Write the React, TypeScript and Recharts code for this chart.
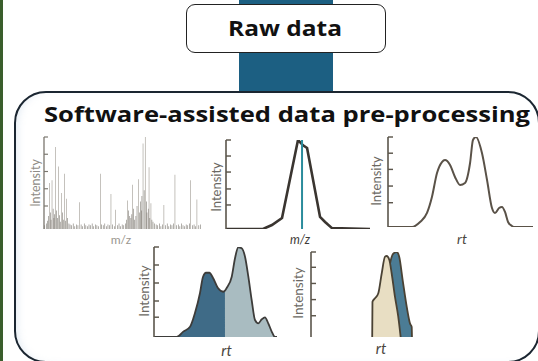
import React from 'react';
import {
  BarChart,
  Bar,
  Cell,
  XAxis,
  YAxis,
  LineChart,
  Line,
  ReferenceLine,
  ComposedChart,
  Area,
} from 'recharts';

// ---------- Panel 1: mass spectrum (m/z vs intensity) ----------
const SPEC_MZ = [3.4, 5.1, 7.4, 9.1, 11.0, 12.9, 14.3, 22.6, 35.7, 42.4, 45.4, 53, 56.1, 59.7, 62.7, 64.1, 66.5, 67.7, 75.9, 82.9, 92.8, 96.8];
const SPEC_INT = [50, 53, 89, 68, 39, 60, 33, 29, 60, 38, 21, 31, 48, 54, 93, 100, 67, 28, 26, 59, 53, 32];
const NOISE_MZ = [0.5, 1.5, 2.2, 2.8, 4, 4.5, 5.8, 6.3, 6.8, 8, 8.5, 9.7, 10.3, 11.6, 12.2, 13.5, 14.9, 15.8, 16.5, 17.5, 18.5, 19.5, 20.5, 21.5, 23.5, 24.5, 25.5, 26.5, 27.5, 28.5, 29.5, 30.5, 31.5, 32.5, 33.5, 34.5, 36.5, 37.5, 38.5, 39.5, 40.5, 41.5, 43.5, 44.5, 46.5, 47.5, 48.5, 49.5, 50.5, 51.5, 52.2, 53.6, 54.3, 55, 55.6, 56.8, 57.4, 58.2, 58.9, 60.3, 61, 61.6, 62, 63.4, 64.8, 65.2, 66, 67, 68.3, 69, 70, 71, 72, 73, 74, 75, 77, 78, 79, 80, 81, 82, 84, 85, 86, 87, 88, 89, 90, 91, 92, 94, 95, 96, 98, 99];
const NOISE_INT = [4, 6, 9, 14, 18, 10, 22, 12, 16, 20, 12, 15, 8, 18, 10, 9, 12, 6, 5, 4, 6, 3, 5, 4, 5, 3, 6, 4, 3, 5, 4, 6, 3, 5, 4, 3, 5, 4, 6, 3, 5, 4, 5, 3, 4, 6, 3, 5, 4, 6, 10, 20, 14, 12, 16, 22, 10, 14, 25, 18, 30, 20, 36, 42, 30, 18, 22, 12, 10, 8, 6, 5, 4, 6, 3, 5, 4, 6, 3, 5, 4, 6, 4, 5, 3, 6, 4, 3, 5, 4, 6, 4, 5, 3, 4, 5];
const SPEC_TICKS = [25, 43.75, 62.5, 81.25, 100];

// ---------- Panel 2: single m/z profile peak + centroid ----------
const PROFILE_X = [0, 25.7, 31.9, 38.9, 50, 53.5, 56.3, 65.3, 68.8, 73.6, 100];
const PROFILE_Y = [0, 0, 4.5, 12.4, 100, 94, 91, 13.5, 7.9, 1, 0];
const CENTROID_X = 52.8;
const PROFILE_TICKS = [27, 45, 64, 82, 100];

// ---------- Panel 3: chromatogram (rt vs intensity) ----------
const XIC_X = [0, 16.6, 22.1, 26.9, 30.3, 33.8, 37.2, 39.3, 42.8, 46.2, 49.7, 53.1, 56.6, 58.6, 60.7, 64.8, 68.3, 71.7, 73.8, 76.6, 78.6, 80.7, 82.8, 85.5, 87.6, 100];
const XIC_Y = [0, 0, 5.6, 15.6, 33.3, 60, 72.2, 74.4, 68.9, 55.6, 46.7, 48.9, 71.1, 96.7, 100, 82.2, 52.2, 21.1, 15.6, 21.1, 22.2, 16.7, 5.6, 1.1, 0, 0];
const XIC_TICKS = [27, 45.5, 64, 82, 100];

// ---------- Panel 4: deconvoluted chromatogram, split at boundary ----------
const EIC_X = [0, 18.5, 23.8, 29.3, 33.3, 37.4, 39.8, 42.3, 45, 48, 52, 56.3, 57.7, 59.1, 63.2, 65.9, 68.5, 71.3, 74, 76.7, 79.4, 82.1, 84.8, 87.6, 90.2, 92.9, 95.7, 98.4, 100];
const EIC_Y = [0, 0, 6, 11.4, 26.7, 48.9, 66.7, 71.4, 71.4, 65.6, 54.4, 50.3, 51.5, 54.4, 67, 87.8, 99.7, 98.6, 89.2, 67, 41.1, 18.9, 15.2, 19.7, 21.9, 15.2, 6, 0, 0];
const EIC_SPLIT = 57.7;
const EIC_TICKS = [22, 40, 60, 80, 100];

// ---------- Panel 5: two overlapping peaks ----------
const BEIGE_X = [48.2, 48.4, 50.4, 53, 55.7, 58.3, 59.6, 61.7, 63.5, 66.1, 68.7, 70.6];
const BEIGE_Y = [0, 41.5, 45.5, 51.4, 75, 94.5, 95.3, 90.6, 75, 47.5, 24, 0];
const BLUE_X = [54.3, 58.3, 62.2, 64.8, 67.5, 69.5, 72.2, 75.4, 78, 79.3, 79.5];
const BLUE_Y = [0, 43, 86.3, 98, 100, 94.1, 66.7, 35.3, 15.7, 11.8, 0];
const PAIR_TICKS = [25, 44, 63, 82, 100];

// ---------- derived tables ----------
const spectrumData = [
  ...SPEC_MZ.map((mz, k) => ({ mz, i: SPEC_INT[k], kind: 'peak' })),
  ...NOISE_MZ.map((mz, k) => ({ mz, i: NOISE_INT[k], kind: 'noise' })),
].sort((a, b) => a.mz - b.mz);

const profileData = PROFILE_X.map((x, k) => ({ x, y: PROFILE_Y[k] }));
const xicData = XIC_X.map((x, k) => ({ x, y: XIC_Y[k] }));
const eicData = EIC_X.map((x, k) => ({
  x,
  full: EIC_Y[k],
  a: x <= EIC_SPLIT ? EIC_Y[k] : null,
  b: x >= EIC_SPLIT ? EIC_Y[k] : null,
}));
const pairXs = Array.from(new Set([...BEIGE_X, ...BLUE_X])).sort((p, q) => p - q);
const pairData = pairXs.map((x) => {
  const bi = BEIGE_X.indexOf(x);
  const ui = BLUE_X.indexOf(x);
  return { x, beige: bi >= 0 ? BEIGE_Y[bi] : null, blue: ui >= 0 ? BLUE_Y[ui] : null };
});

const M = { top: 4, right: 4, bottom: 4, left: 4 };

function box(left: number, top: number, w: number, h: number): React.CSSProperties {
  return { position: 'absolute', left, top, width: w, height: h };
}

const line = (color: string, w: number) => ({ stroke: color, strokeWidth: w });
const blank = () => '';

function yAxis(ticks: number[], color: string, w: number, size: number) {
  return (
    <YAxis
      type="number"
      domain={[0, 100]}
      ticks={ticks}
      width={10}
      mirror
      tickFormatter={blank}
      tickSize={size}
      axisLine={line(color, w)}
      tickLine={line(color, w * 0.9)}
      allowDataOverflow
    />
  );
}

function xAxis(key: string, color: string, w: number) {
  return (
    <XAxis
      type="number"
      dataKey={key}
      domain={[0, 100]}
      height={0}
      tick={false}
      tickLine={false}
      axisLine={line(color, w)}
    />
  );
}

export default function App() {
  const AX = '#5b554b';
  const labelFont = 'Lato, "Open Sans", "DejaVu Sans", sans-serif';
  const headFont = '"Open Sans", Inter, sans-serif';
  return (
    <div
      style={{
        position: 'absolute',
        left: 0,
        top: 0,
        width: 538,
        height: 361,
        overflow: 'hidden',
        background: '#ffffff',
      }}
    >
      {/* green edge strip */}
      <div style={{ ...box(0, 0, 3, 361), background: '#3a5e2c' }} />
      {/* connector bar */}
      <div style={{ ...box(239, 0, 94, 93), background: '#1c5f82' }} />
      {/* Raw data box */}
      <div
        style={{
          ...box(186, 4, 200, 49),
          boxSizing: 'border-box',
          border: '1.5px solid #222',
          borderRadius: 9,
          background: '#fff',
        }}
      />
      {/* processing box */}
      <div
        style={{
          ...box(14, 91, 526, 272),
          boxSizing: 'border-box',
          border: '2px solid #1b2631',
          borderRadius: 32,
          background: '#fff',
          boxShadow: 'inset 6px 0 10px -6px rgba(170,195,220,0.45)',
        }}
      />

      {/* Panel 1 */}
      <div style={box(40, 133, 166, 100)}>
        <BarChart width={166} height={100} data={spectrumData} margin={M} barCategoryGap={0}>
          {xAxis('mz', '#6d685e', 2)}
          {yAxis(SPEC_TICKS, '#7a766e', 1.3, 4)}
          <Bar dataKey="i" barSize={1.5} isAnimationActive={false}>
            {spectrumData.map((d, k) => (
              <Cell key={k} fill={d.kind === 'peak' ? '#98938a' : '#77726a'} />
            ))}
          </Bar>
        </BarChart>
      </div>

      {/* Panel 2 */}
      <div style={box(222, 136, 152, 97)}>
        <LineChart width={152} height={97} data={profileData} margin={M}>
          {xAxis('x', AX, 2)}
          {yAxis(PROFILE_TICKS, AX, 1.6, 5)}
          <Line type="linear" dataKey="y" stroke="#3a3530" strokeWidth={2.6} dot={false} isAnimationActive={false} />
          <ReferenceLine x={CENTROID_X} stroke="#2b8c9c" strokeWidth={2} ifOverflow="visible" />
        </LineChart>
      </div>

      {/* Panel 3 */}
      <div style={box(384, 133, 153, 98)}>
        <LineChart width={153} height={98} data={xicData} margin={M}>
          {xAxis('x', AX, 2)}
          {yAxis(XIC_TICKS, AX, 1.6, 5)}
          <Line type="monotone" dataKey="y" stroke="#5a5248" strokeWidth={2} dot={false} isAnimationActive={false} />
        </LineChart>
      </div>

      {/* Panel 4 */}
      <div style={box(150, 243, 131, 98)}>
        <ComposedChart width={131} height={98} data={eicData} margin={M}>
          {xAxis('x', AX, 2)}
          {yAxis(EIC_TICKS, AX, 1.6, 5)}
          <Area type="monotone" dataKey="a" stroke="none" fill="#3f6b87" fillOpacity={1} isAnimationActive={false} />
          <Area type="monotone" dataKey="b" stroke="none" fill="#a9bcc1" fillOpacity={1} isAnimationActive={false} />
          <Line type="monotone" dataKey="full" stroke="#3d3c3a" strokeWidth={1.8} dot={false} isAnimationActive={false} />
        </ComposedChart>
      </div>

      {/* Panel 5 */}
      <div style={box(307, 248, 135, 93)}>
        <ComposedChart width={135} height={93} data={pairData} margin={M}>
          {xAxis('x', AX, 2)}
          {yAxis(PAIR_TICKS, AX, 1.6, 5)}
          <Area type="monotone" dataKey="blue" connectNulls stroke="#4a4234" strokeWidth={1.8} fill="#4b7c95" fillOpacity={1} isAnimationActive={false} />
          <Area type="monotone" dataKey="beige" connectNulls stroke="#4a4234" strokeWidth={1.8} fill="#e8dec3" fillOpacity={1} isAnimationActive={false} />
        </ComposedChart>
      </div>

      {/* texts */}
      <svg width={538} height={361} style={{ position: 'absolute', left: 0, top: 0, pointerEvents: 'none' }}>
        <text x={285} y={36} textAnchor="middle" fontFamily={headFont} fontWeight={700} fontSize={21} fill="#111" textLength={114} lengthAdjust="spacingAndGlyphs">
          Raw data
        </text>
        <text x={44} y={122} fontFamily={headFont} fontWeight={700} fontSize={21.5} fill="#111" textLength={486} lengthAdjust="spacingAndGlyphs">
          Software-assisted data pre-processing
        </text>

        <text x={35} y={183} transform="rotate(-90 35 183)" textAnchor="middle" dominantBaseline="central" fontFamily={labelFont} fontSize={12.5} fill="#8f8c86">Intensity</text>
        <text x={121} y={244} textAnchor="middle" fontFamily={labelFont} fontSize={12} fill="#9a968f">m/z</text>

        <text x={215.5} y={187} transform="rotate(-90 215.5 187)" textAnchor="middle" dominantBaseline="central" fontFamily={labelFont} fontSize={13} fill="#6b6862">Intensity</text>
        <text x={300} y={244} textAnchor="middle" fontFamily={labelFont} fontStyle="italic" fontSize={12.5} fill="#3f3c38">m/z</text>

        <text x={376} y={181} transform="rotate(-90 376 181)" textAnchor="middle" dominantBaseline="central" fontFamily={labelFont} fontSize={13} fill="#6b6862">Intensity</text>
        <text x={462} y={244} textAnchor="middle" fontFamily={labelFont} fontStyle="italic" fontSize={14} fill="#4a4640">rt</text>

        <text x={144} y={291} transform="rotate(-90 144 291)" textAnchor="middle" dominantBaseline="central" fontFamily={labelFont} fontSize={13.5} fill="#6b6862">Intensity</text>
        <text x={226.5} y={356} textAnchor="middle" fontFamily={labelFont} fontStyle="italic" fontSize={15} fill="#4a4640">rt</text>

        <text x={298} y={293} transform="rotate(-90 298 293)" textAnchor="middle" dominantBaseline="central" fontFamily={labelFont} fontSize={13.5} fill="#6b6862">Intensity</text>
        <text x={381} y={354} textAnchor="middle" fontFamily={labelFont} fontStyle="italic" fontSize={15} fill="#4a4640">rt</text>
      </svg>
    </div>
  );
}
